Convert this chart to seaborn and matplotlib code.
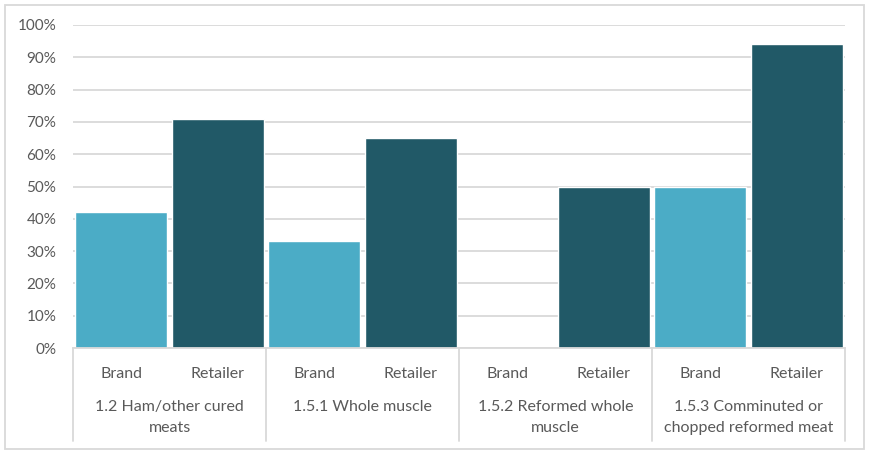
import matplotlib
matplotlib.use('Agg')
import matplotlib.pyplot as plt
import matplotlib.transforms as mtransforms
from matplotlib.patches import Rectangle
from matplotlib.ticker import PercentFormatter
import pandas as pd
import seaborn as sns

# Chart data
groups = ['1.2 Ham/other cured\nmeats', '1.5.1 Whole muscle',
          '1.5.2 Reformed whole\nmuscle', '1.5.3 Comminuted or\nchopped reformed meat']
owner_types = ['Brand', 'Retailer']
brand_share = [0.42, 0.33, None, 0.50]
retailer_share = [0.71, 0.65, 0.50, 0.94]

rows = []
for g, b, r in zip(groups, brand_share, retailer_share):
    rows.append({'group': g, 'type': 'Brand', 'value': b})
    rows.append({'group': g, 'type': 'Retailer', 'value': r})
df = pd.DataFrame(rows)
df['slot'] = df['group'] + ' | ' + df['type']
order = list(df['slot'])

sns.set_style('white')
plt.rcParams['font.family'] = ['Lato', 'DejaVu Sans']
text_color = '#595959'
grid_color = '#D9D9D9'

fig = plt.figure(figsize=(8.69, 4.54), dpi=100)
ax = fig.add_axes([73 / 869, 1 - 348 / 454, (845 - 73) / 869, (348 - 25) / 454])

# Draw bars
sns.barplot(data=df.dropna(), x='slot', y='value', hue='type', order=order,
            hue_order=owner_types, palette=['#4BACC6', '#215967'], saturation=1,
            dodge=False, width=0.95, legend=False, ax=ax)

ax.set_xlim(-0.5, len(order) - 0.5)
ax.set_ylim(0, 1)
ax.set_yticks([i / 10 for i in range(11)])
ax.yaxis.set_major_formatter(PercentFormatter(1.0, decimals=0))
ax.yaxis.grid(True, color=grid_color, linewidth=1.3)
ax.set_axisbelow(True)
ax.set_xlabel('')
ax.set_ylabel('')

for side in ['top', 'right', 'left']:
    ax.spines[side].set_visible(False)
ax.spines['bottom'].set_color(grid_color)
ax.spines['bottom'].set_linewidth(1.3)

ax.tick_params(axis='y', length=0, pad=12, labelsize=11, labelcolor=text_color)
ax.set_xticks(range(len(order)))
ax.set_xticklabels(list(df['type']))
ax.tick_params(axis='x', length=0, pad=14, labelsize=11.5, labelcolor=text_color)

# Group labels and separators under the axis
trans = mtransforms.blended_transform_factory(ax.transData, ax.transAxes)
axis_px = 348 - 25
for i, g in enumerate(groups):
    center = i * 2 + 0.5
    ax.text(center, -(407 - 348 - 7) / axis_px, g, transform=trans, ha='center', va='top',
            fontsize=11.5, color=text_color, linespacing=1.65)
for i in range(len(groups) + 1):
    xpos = i * 2 - 0.5
    ax.plot([xpos, xpos], [0, -(441 - 348) / axis_px], transform=trans,
            color=grid_color, linewidth=1.3, clip_on=False)

# Outer chart border
fig.patches.append(Rectangle((5 / 869, 5 / 454), 859 / 869, 444 / 454,
                             transform=fig.transFigure, fill=False,
                             edgecolor=grid_color, linewidth=1.3))

fig.savefig('out.png', dpi=100)
